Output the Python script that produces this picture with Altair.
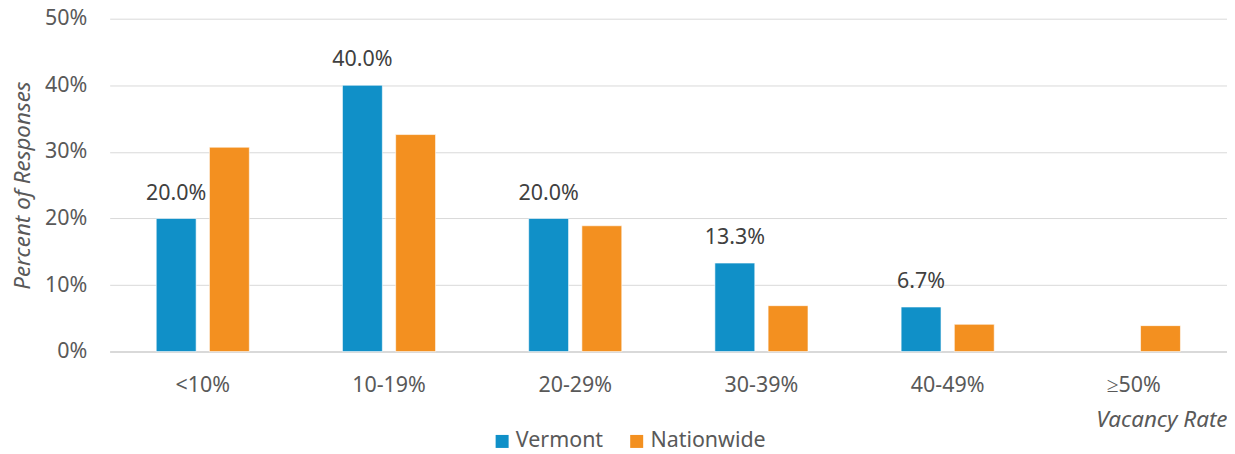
import altair as alt
import pandas as pd

categories = ["<10%", "10-19%", "20-29%", "30-39%", "40-49%", "≥50%"]
vermont = [0.200, 0.400, 0.200, 0.133, 0.067, 0.0]
nationwide = [0.307, 0.326, 0.189, 0.069, 0.041, 0.039]
series = ["Vermont", "Nationwide"]
colors = ["#1090C8", "#F39020"]

rows = []
for c, v, n in zip(categories, vermont, nationwide):
    rows.append({"cat": c, "series": "Vermont", "value": v})
    rows.append({"cat": c, "series": "Nationwide", "value": n})
df = pd.DataFrame(rows)

FONT = "Noto Sans"
FS = 21.5
TFS = 22.5
x = alt.X("cat:N", sort=categories,
          scale=alt.Scale(paddingInner=0.5, paddingOuter=0.25),
          axis=alt.Axis(title="Vacancy Rate", titleAnchor="end", titleFontStyle="italic",
                        titleFontWeight="normal", titleFontSize=TFS, titleColor="#595959",
                        titleFont=FONT, titlePadding=13,
                        labelAngle=0, labelFontSize=FS, labelColor="#595959", labelFont=FONT,
                        labelPadding=23, ticks=False, domain=True, domainColor="#d9d9d9",
                        domainWidth=2, grid=False))
y = alt.Y("value:Q", scale=alt.Scale(domain=[0, 0.5]),
          axis=alt.Axis(title="Percent of Responses", format=".0%", values=[0, 0.1, 0.2, 0.3, 0.4, 0.5],
                        titleFontStyle="italic", titleFontWeight="normal", titleFontSize=TFS,
                        titleColor="#595959", titleFont=FONT, titlePadding=10,
                        labelFontSize=FS, labelColor="#595959", labelFont=FONT, labelPadding=23,
                        ticks=False, domain=False, gridColor="#d9d9d9", gridWidth=1))

bars = alt.Chart(df).transform_filter("datum.value > 0").mark_bar(
    stroke="white", strokeWidth=1, strokeOpacity=0.6
).encode(
    x=x, y=y,
    xOffset=alt.XOffset("series:N", sort=series, scale=alt.Scale(domain=series, paddingInner=0.25)),
    color=alt.Color("series:N", sort=series, scale=alt.Scale(domain=series, range=colors),
                    legend=alt.Legend(title=None, orient="none", direction="horizontal",
                                      legendX=383, legendY=413, symbolType="square",
                                      symbolSize=170, symbolStrokeWidth=0,
                                      labelFontSize=FS, labelColor="#595959", labelFont=FONT,
                                      columnPadding=22, labelOffset=3)),
)

labels = alt.Chart(df).transform_filter(
    "datum.series == 'Vermont' && datum.value > 0"
).mark_text(dy=-25, fontSize=FS, color="#404040", font=FONT).encode(
    x=alt.X("cat:N", sort=categories),
    y=alt.Y("value:Q"),
    xOffset=alt.XOffset("series:N", sort=series, scale=alt.Scale(domain=series, paddingInner=0.25)),
    text=alt.Text("value:Q", format=".1%"),
)

chart = alt.layer(bars, labels).properties(
    width=1121, height=334,
    autosize=alt.AutoSizeParams(type="none"),
    padding={"left": 102, "top": 10, "right": 0, "bottom": 102},
).configure_view(stroke=None)

chart.save("out.html", embed_options={"renderer": "svg", "actions": False})
